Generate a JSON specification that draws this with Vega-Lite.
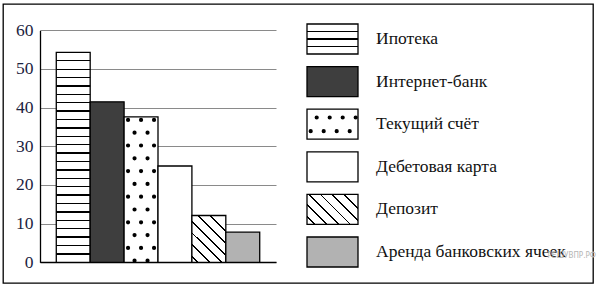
{
  "$schema": "https://vega.github.io/schema/vega-lite/v6.json",
  "width": 590,
  "height": 279,
  "autosize": "none",
  "padding": {"left": 3, "top": 4, "right": 7, "bottom": 4},
  "background": "white",
  "config": {"view": {"stroke": "black", "strokeWidth": 1.3}},
  "resolve": {"scale": {"x": "independent", "y": "independent"}},
  "layer": [
    {
      "data": {"values": [
        {"cat": "Ипотека", "value": 54.3},
        {"cat": "Интернет-банк", "value": 41.5},
        {"cat": "Текущий счёт", "value": 37.6},
        {"cat": "Дебетовая карта", "value": 24.9},
        {"cat": "Депозит", "value": 12.1},
        {"cat": "Аренда банковских ячеек", "value": 7.8}
      ]},
      "encoding": {
        "x": {"field": "cat", "type": "nominal",
          "scale": {"domain": ["Ипотека", "Интернет-банк", "Текущий счёт", "Дебетовая карта", "Депозит", "Аренда банковских ячеек"], "range": [37, 273], "paddingInner": 0, "paddingOuter": 0.48},
          "axis": {"title": null, "labels": false, "ticks": false, "grid": false, "domain": true, "domainColor": "black", "domainWidth": 1.3, "offset": -21}},
        "y": {"field": "value", "type": "quantitative",
          "scale": {"domain": [0, 60], "range": [258.3, 26.3], "nice": false},
          "axis": {"title": null, "offset": -37, "values": [0, 10, 20, 30, 40, 50, 60], "grid": true, "gridColor": "#8a8a8a", "gridWidth": 1, "ticks": false, "domain": true, "domainColor": "black", "domainWidth": 1.3, "labelFont": "Liberation Serif", "labelFontSize": 17.5, "labelColor": "#1c2340", "labelPadding": 7, "labelOverlap": false}}
      },
      "layer": [
        {"transform": [{"filter": "datum.cat === 'Ипотека'"}],
         "mark": {"type": "bar", "stroke": "black", "strokeWidth": 1.3, "fill": {"gradient": "linear", "x1": 0, "y1": 0, "x2": 0, "y2": 1, "stops": [
           {"offset": 0, "color": "#fff"},
           {"offset": 0.037, "color": "#fff"}, {"offset": 0.037, "color": "#000"}, {"offset": 0.043, "color": "#000"}, {"offset": 0.043, "color": "#fff"},
           {"offset": 0.077, "color": "#fff"}, {"offset": 0.077, "color": "#000"}, {"offset": 0.083, "color": "#000"}, {"offset": 0.083, "color": "#fff"},
           {"offset": 0.117, "color": "#fff"}, {"offset": 0.117, "color": "#000"}, {"offset": 0.123, "color": "#000"}, {"offset": 0.123, "color": "#fff"},
           {"offset": 0.157, "color": "#fff"}, {"offset": 0.157, "color": "#000"}, {"offset": 0.163, "color": "#000"}, {"offset": 0.163, "color": "#fff"},
           {"offset": 0.197, "color": "#fff"}, {"offset": 0.197, "color": "#000"}, {"offset": 0.203, "color": "#000"}, {"offset": 0.203, "color": "#fff"},
           {"offset": 0.237, "color": "#fff"}, {"offset": 0.237, "color": "#000"}, {"offset": 0.243, "color": "#000"}, {"offset": 0.243, "color": "#fff"},
           {"offset": 0.277, "color": "#fff"}, {"offset": 0.277, "color": "#000"}, {"offset": 0.283, "color": "#000"}, {"offset": 0.283, "color": "#fff"},
           {"offset": 0.317, "color": "#fff"}, {"offset": 0.317, "color": "#000"}, {"offset": 0.323, "color": "#000"}, {"offset": 0.323, "color": "#fff"},
           {"offset": 0.357, "color": "#fff"}, {"offset": 0.357, "color": "#000"}, {"offset": 0.363, "color": "#000"}, {"offset": 0.363, "color": "#fff"},
           {"offset": 0.397, "color": "#fff"}, {"offset": 0.397, "color": "#000"}, {"offset": 0.403, "color": "#000"}, {"offset": 0.403, "color": "#fff"},
           {"offset": 0.437, "color": "#fff"}, {"offset": 0.437, "color": "#000"}, {"offset": 0.443, "color": "#000"}, {"offset": 0.443, "color": "#fff"},
           {"offset": 0.477, "color": "#fff"}, {"offset": 0.477, "color": "#000"}, {"offset": 0.483, "color": "#000"}, {"offset": 0.483, "color": "#fff"},
           {"offset": 0.517, "color": "#fff"}, {"offset": 0.517, "color": "#000"}, {"offset": 0.523, "color": "#000"}, {"offset": 0.523, "color": "#fff"},
           {"offset": 0.557, "color": "#fff"}, {"offset": 0.557, "color": "#000"}, {"offset": 0.563, "color": "#000"}, {"offset": 0.563, "color": "#fff"},
           {"offset": 0.597, "color": "#fff"}, {"offset": 0.597, "color": "#000"}, {"offset": 0.603, "color": "#000"}, {"offset": 0.603, "color": "#fff"},
           {"offset": 0.637, "color": "#fff"}, {"offset": 0.637, "color": "#000"}, {"offset": 0.643, "color": "#000"}, {"offset": 0.643, "color": "#fff"},
           {"offset": 0.677, "color": "#fff"}, {"offset": 0.677, "color": "#000"}, {"offset": 0.683, "color": "#000"}, {"offset": 0.683, "color": "#fff"},
           {"offset": 0.717, "color": "#fff"}, {"offset": 0.717, "color": "#000"}, {"offset": 0.723, "color": "#000"}, {"offset": 0.723, "color": "#fff"},
           {"offset": 0.757, "color": "#fff"}, {"offset": 0.757, "color": "#000"}, {"offset": 0.763, "color": "#000"}, {"offset": 0.763, "color": "#fff"},
           {"offset": 0.797, "color": "#fff"}, {"offset": 0.797, "color": "#000"}, {"offset": 0.803, "color": "#000"}, {"offset": 0.803, "color": "#fff"},
           {"offset": 0.837, "color": "#fff"}, {"offset": 0.837, "color": "#000"}, {"offset": 0.843, "color": "#000"}, {"offset": 0.843, "color": "#fff"},
           {"offset": 0.877, "color": "#fff"}, {"offset": 0.877, "color": "#000"}, {"offset": 0.883, "color": "#000"}, {"offset": 0.883, "color": "#fff"},
           {"offset": 0.917, "color": "#fff"}, {"offset": 0.917, "color": "#000"}, {"offset": 0.923, "color": "#000"}, {"offset": 0.923, "color": "#fff"},
           {"offset": 0.957, "color": "#fff"}, {"offset": 0.957, "color": "#000"}, {"offset": 0.963, "color": "#000"}, {"offset": 0.963, "color": "#fff"},
           {"offset": 1, "color": "#fff"}]}}},
        {"transform": [{"filter": "datum.cat === 'Интернет-банк'"}],
         "mark": {"type": "bar", "stroke": "black", "strokeWidth": 1.3, "fill": "#3e3e3e"}},
        {"transform": [{"filter": "datum.cat === 'Текущий счёт'"}],
         "mark": {"type": "bar", "stroke": "black", "strokeWidth": 1.3, "fill": "white"}},
        {"transform": [{"filter": "datum.cat === 'Дебетовая карта'"}],
         "mark": {"type": "bar", "stroke": "black", "strokeWidth": 1.3, "fill": "white"}},
        {"transform": [{"filter": "datum.cat === 'Депозит'"}],
         "mark": {"type": "bar", "stroke": "black", "strokeWidth": 1.3, "fill": {"gradient": "linear", "x1": 0.14, "y1": 1, "x2": 0.86, "y2": 0, "stops": [
           {"offset": 0, "color": "#fff"},
           {"offset": 0.007, "color": "#fff"}, {"offset": 0.007, "color": "#000"}, {"offset": 0.033, "color": "#000"}, {"offset": 0.033, "color": "#fff"},
           {"offset": 0.171, "color": "#fff"}, {"offset": 0.171, "color": "#000"}, {"offset": 0.197, "color": "#000"}, {"offset": 0.197, "color": "#fff"},
           {"offset": 0.335, "color": "#fff"}, {"offset": 0.335, "color": "#000"}, {"offset": 0.361, "color": "#000"}, {"offset": 0.361, "color": "#fff"},
           {"offset": 0.499, "color": "#fff"}, {"offset": 0.499, "color": "#000"}, {"offset": 0.525, "color": "#000"}, {"offset": 0.525, "color": "#fff"},
           {"offset": 0.663, "color": "#fff"}, {"offset": 0.663, "color": "#000"}, {"offset": 0.689, "color": "#000"}, {"offset": 0.689, "color": "#fff"},
           {"offset": 0.827, "color": "#fff"}, {"offset": 0.827, "color": "#000"}, {"offset": 0.853, "color": "#000"}, {"offset": 0.853, "color": "#fff"},
           {"offset": 1, "color": "#fff"}]}}},
        {"transform": [{"filter": "datum.cat === 'Аренда банковских ячеек'"}],
         "mark": {"type": "bar", "stroke": "black", "strokeWidth": 1.3, "fill": "#b2b2b2"}},
        {"transform": [{"filter": "datum.cat === 'Текущий счёт'"}],
         "mark": {"type": "rule", "color": "black", "strokeWidth": 4.2, "strokeCap": "round", "strokeDash": [0, 25.6], "strokeDashOffset": 22.6, "xOffset": -13},
         "encoding": {"y2": {"datum": 0}}},
        {"transform": [{"filter": "datum.cat === 'Текущий счёт'"}],
         "mark": {"type": "rule", "color": "black", "strokeWidth": 4.2, "strokeCap": "round", "strokeDash": [0, 25.6], "strokeDashOffset": 22.6, "xOffset": 0},
         "encoding": {"y2": {"datum": 0}}},
        {"transform": [{"filter": "datum.cat === 'Текущий счёт'"}],
         "mark": {"type": "rule", "color": "black", "strokeWidth": 4.2, "strokeCap": "round", "strokeDash": [0, 25.6], "strokeDashOffset": 22.6, "xOffset": 13},
         "encoding": {"y2": {"datum": 0}}},
        {"transform": [{"filter": "datum.cat === 'Текущий счёт'"}],
         "mark": {"type": "rule", "color": "black", "strokeWidth": 4.2, "strokeCap": "round", "strokeDash": [0, 25.6], "strokeDashOffset": 9.8, "xOffset": -6.5},
         "encoding": {"y2": {"datum": 0}}},
        {"transform": [{"filter": "datum.cat === 'Текущий счёт'"}],
         "mark": {"type": "rule", "color": "black", "strokeWidth": 4.2, "strokeCap": "round", "strokeDash": [0, 25.6], "strokeDashOffset": 9.8, "xOffset": 6.5},
         "encoding": {"y2": {"datum": 0}}}
      ]
    },
    {
      "data": {"values": [
        {"cat": "Ипотека"},
        {"cat": "Интернет-банк"},
        {"cat": "Текущий счёт"},
        {"cat": "Дебетовая карта"},
        {"cat": "Депозит"},
        {"cat": "Аренда банковских ячеек"}
      ]},
      "encoding": {
        "y": {"field": "cat", "type": "nominal",
          "scale": {"domain": ["Ипотека", "Интернет-банк", "Текущий счёт", "Дебетовая карта", "Депозит", "Аренда банковских ячеек"], "range": [20, 263], "paddingInner": 0.296, "paddingOuter": 0},
          "axis": null}
      },
      "layer": [
        {"transform": [{"filter": "datum.cat === 'Ипотека'"}],
         "mark": {"type": "rect", "stroke": "black", "strokeWidth": 1.3, "fill": {"gradient": "linear", "x1": 0, "y1": 0, "x2": 0, "y2": 1, "stops": [
           {"offset": 0, "color": "#fff"},
           {"offset": 0.23, "color": "#fff"}, {"offset": 0.23, "color": "#000"}, {"offset": 0.27, "color": "#000"}, {"offset": 0.27, "color": "#fff"},
           {"offset": 0.48, "color": "#fff"}, {"offset": 0.48, "color": "#000"}, {"offset": 0.52, "color": "#000"}, {"offset": 0.52, "color": "#fff"},
           {"offset": 0.73, "color": "#fff"}, {"offset": 0.73, "color": "#000"}, {"offset": 0.77, "color": "#000"}, {"offset": 0.77, "color": "#fff"},
           {"offset": 1, "color": "#fff"}]}},
         "encoding": {
           "x": {"datum": 0, "type": "quantitative", "scale": {"domain": [0, 1], "range": [304, 355], "nice": false, "zero": false}, "axis": null},
           "x2": {"datum": 1}}},
        {"transform": [{"filter": "datum.cat === 'Интернет-банк'"}],
         "mark": {"type": "rect", "stroke": "black", "strokeWidth": 1.3, "fill": "#3e3e3e"},
         "encoding": {"x": {"datum": 0, "type": "quantitative"}, "x2": {"datum": 1}}},
        {"transform": [{"filter": "datum.cat === 'Текущий счёт' || datum.cat === 'Дебетовая карта'"}],
         "mark": {"type": "rect", "stroke": "black", "strokeWidth": 1.3, "fill": "white"},
         "encoding": {"x": {"datum": 0, "type": "quantitative"}, "x2": {"datum": 1}}},
        {"transform": [{"filter": "datum.cat === 'Депозит'"}],
         "mark": {"type": "rect", "stroke": "black", "strokeWidth": 1.3, "fill": {"gradient": "linear", "x1": 0, "y1": 0.794, "x2": 1, "y2": 0.206, "stops": [
           {"offset": 0, "color": "#fff"},
           {"offset": 0.017, "color": "#fff"}, {"offset": 0.017, "color": "#000"}, {"offset": 0.043, "color": "#000"}, {"offset": 0.043, "color": "#fff"},
           {"offset": 0.187, "color": "#fff"}, {"offset": 0.187, "color": "#000"}, {"offset": 0.213, "color": "#000"}, {"offset": 0.213, "color": "#fff"},
           {"offset": 0.358, "color": "#fff"}, {"offset": 0.358, "color": "#000"}, {"offset": 0.384, "color": "#000"}, {"offset": 0.384, "color": "#fff"},
           {"offset": 0.529, "color": "#fff"}, {"offset": 0.529, "color": "#000"}, {"offset": 0.555, "color": "#000"}, {"offset": 0.555, "color": "#fff"},
           {"offset": 0.7, "color": "#fff"}, {"offset": 0.7, "color": "#000"}, {"offset": 0.726, "color": "#000"}, {"offset": 0.726, "color": "#fff"},
           {"offset": 0.871, "color": "#fff"}, {"offset": 0.871, "color": "#000"}, {"offset": 0.897, "color": "#000"}, {"offset": 0.897, "color": "#fff"},
           {"offset": 1, "color": "#fff"}]}},
         "encoding": {"x": {"datum": 0, "type": "quantitative"}, "x2": {"datum": 1}}},
        {"transform": [{"filter": "datum.cat === 'Аренда банковских ячеек'"}],
         "mark": {"type": "rect", "stroke": "black", "strokeWidth": 1.3, "fill": "#b2b2b2"},
         "encoding": {"x": {"datum": 0, "type": "quantitative"}, "x2": {"datum": 1}}},
        {"transform": [{"filter": "datum.cat === 'Текущий счёт'"}],
         "mark": {"type": "rule", "color": "black", "strokeWidth": 4.2, "strokeCap": "round", "strokeDash": [0, 13], "strokeDashOffset": 3.3, "yOffset": -6.7},
         "encoding": {"x": {"datum": 0, "type": "quantitative"}, "x2": {"datum": 1}}},
        {"transform": [{"filter": "datum.cat === 'Текущий счёт'"}],
         "mark": {"type": "rule", "color": "black", "strokeWidth": 4.2, "strokeCap": "round", "strokeDash": [0, 13], "strokeDashOffset": 9.3, "yOffset": 7},
         "encoding": {"x": {"datum": 0, "type": "quantitative"}, "x2": {"datum": 1}}},
        {"mark": {"type": "text", "align": "left", "baseline": "alphabetic", "dx": 18, "dy": 5, "font": "Liberation Serif", "fontSize": 17.5, "color": "#111"},
         "encoding": {"x": {"datum": 1, "type": "quantitative"}, "text": {"field": "cat"}}},
        {"transform": [{"filter": "datum.cat === 'Аренда банковских ячеек'"}],
         "mark": {"type": "text", "align": "right", "baseline": "middle", "dx": 238, "dy": 4, "font": "DejaVu Sans Condensed", "fontSize": 8, "color": "#b5b5b5", "text": "РЕШУВПР.РФ"},
         "encoding": {"x": {"datum": 1, "type": "quantitative"}}}
      ]
    }
  ]
}
